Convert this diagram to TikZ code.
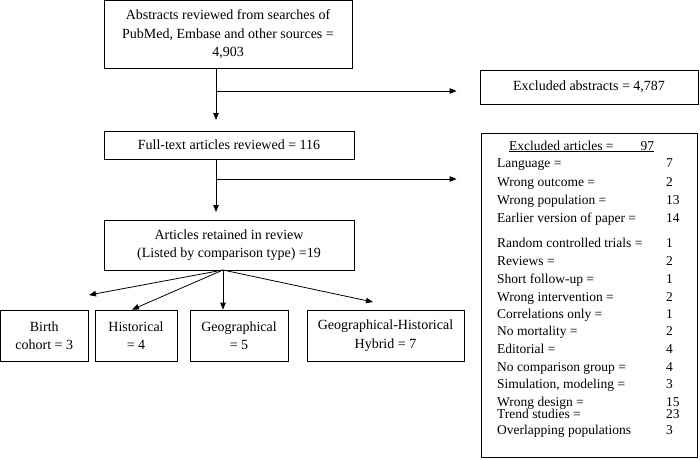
\documentclass[tikz,border=0pt]{standalone}
\usepackage{fontspec}
\setmainfont{Liberation Serif}
\usetikzlibrary{arrows.meta, positioning}

\begin{document}
\begin{tikzpicture}[x=1pt, y=-1pt,
    box/.style={rectangle, draw, line width=0.8pt, inner sep=2pt, align=center, font=\fontsize{14}{18.5}\selectfont},
    item/.style={anchor=base west, inner sep=0pt, font=\fontsize{13.5}{16}\selectfont},
    arrow/.style={-{Triangle[length=7pt, width=5.5pt]}, line width=0.8pt}
]
\useasboundingbox (0,0) rectangle (700,459);

\node[box, minimum width=248, minimum height=67.5] (abstracts) at (228,34.25) {Abstracts reviewed from searches of\\PubMed, Embase and other sources =\\4,903};
\node[box, minimum width=218, minimum height=34] (exclabs) at (589,87) {Excluded abstracts = 4,787};
\node[box, minimum width=250, minimum height=28] (fulltext) at (229,145) {Full-text articles reviewed = 116};
\node[box, minimum width=216, minimum height=324] (exclart) at (589,295) {};
\node[box, minimum width=250, minimum height=50] (retained) at (229,245) {Articles retained in review\\(Listed by comparison type) =19};

\node[box, minimum width=87.5, minimum height=51] (birth) at (44.25,335.5) {Birth\\cohort = 3};
\node[box, minimum width=82, minimum height=51] (historical) at (136,335.5) {Historical\\= 4};
\node[box, minimum width=98, minimum height=51] (geo) at (239,335.5) {Geographical\\= 5};
\node[box, minimum width=157, minimum height=51] (hybrid) at (385.5,335.5) {Geographical-Historical\\Hybrid = 7};

\node[item] (exhead) at (509,150) {\underline{Excluded articles =\hspace{27pt}97}};
\foreach \yy/\lbl/\num [count=\i] in {163/Language =/7, 182/Wrong outcome =/2,
    200/Wrong population =/13, 218/Earlier version of paper =/14,
    243/Random controlled trials =/1, 261/Reviews =/2, 279/Short follow-up =/1,
    297/Wrong intervention =/2, 314/Correlations only =/1, 331/No mortality =/2,
    349/Editorial =/4, 367/No comparison group =/4, 384/{Simulation, modeling =}/3,
    402/Wrong design =/15, 414/Trend studies =/23, 430/Overlapping populations/3}
  {\node[item] (reason\i) at (497,\yy+4.5) {\lbl};
   \node[item] (count\i) at (666,\yy+4.5) {\num};}

\coordinate (drop1) at (216,120);
\coordinate (split1) at (216,91);
\coordinate (drop2) at (216,212);
\coordinate (split2) at (216,179);
\coordinate (fan) at (223,270);
\coordinate (tipbirth) at (89,295);
\coordinate (tiphybrid) at (373,302);

\draw[arrow] (abstracts.south -| drop1) -- (drop1);
\draw[arrow, shorten >=23] (split1) -- (split1 -| exclabs.west);
\draw[arrow] (fulltext.south -| drop2) -- (drop2);
\draw[arrow, shorten >=24] (split2) -- (split2 -| exclart.west);
\draw[arrow] (fan) -- (tipbirth);
\draw[arrow] (fan) -- ([xshift=-4pt]historical.north);
\draw[arrow] (fan) -- (fan |- geo.north);
\draw[arrow] (fan) -- (tiphybrid);

\end{tikzpicture}
\end{document}
